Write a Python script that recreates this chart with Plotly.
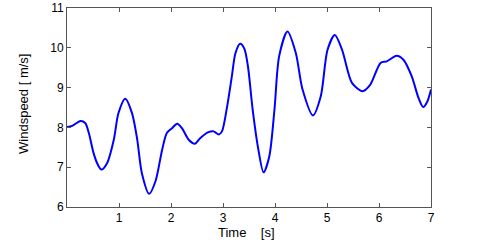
import plotly.graph_objects as go

# wind speed trace
time_s = [0.0, 0.1, 0.26, 0.35, 0.42, 0.51, 0.58, 0.66, 0.77, 0.9, 0.99, 1.12,
          1.25, 1.35, 1.44, 1.58, 1.7, 1.83, 1.92, 2.02, 2.12, 2.21, 2.34, 2.46,
          2.56, 2.72, 2.82, 2.92, 2.98, 3.08, 3.17, 3.24, 3.33, 3.41, 3.48, 3.57,
          3.67, 3.78, 3.89, 3.99, 4.08, 4.24, 4.4, 4.53, 4.73, 4.88, 5.01, 5.15,
          5.29, 5.48, 5.68, 5.83, 6.03, 6.15, 6.34, 6.47, 6.63, 6.76, 6.85, 6.93, 7.0]
wind_speed = [8.01, 8.04, 8.16, 8.11, 7.86, 7.36, 7.1, 6.94, 7.1, 7.69, 8.36, 8.72,
              8.36, 7.7, 6.85, 6.33, 6.64, 7.44, 7.86, 7.98, 8.09, 7.98, 7.69, 7.59,
              7.73, 7.88, 7.9, 7.82, 7.9, 8.53, 9.28, 9.87, 10.1, 9.98, 9.53, 8.45,
              7.52, 6.87, 7.27, 8.45, 9.79, 10.41, 9.87, 8.95, 8.30, 8.78, 9.95, 10.32,
              9.95, 9.12, 8.91, 9.07, 9.62, 9.66, 9.80, 9.70, 9.28, 8.74, 8.51, 8.65, 8.95]

x_ticks = [1, 2, 3, 4, 5, 6, 7]
y_ticks = [6, 7, 8, 9, 10, 11]

fig = go.Figure()
fig.add_trace(go.Scatter(x=time_s, y=wind_speed, mode='lines',
                         line=dict(color='#0000ff', width=2, shape='spline', smoothing=0.8)))

axis_style = dict(showline=True, linecolor='#555555', linewidth=1, mirror='ticks',
                  ticks='inside', ticklen=4, tickcolor='#555555', showgrid=False,
                  zeroline=False, automargin=False,
                  tickfont=dict(family='Liberation Sans', size=12, color='black'))

nb = '\u00a0'
fig.update_layout(
    width=480, height=244,
    margin=dict(l=67, r=49, t=8, b=37),
    paper_bgcolor='white', plot_bgcolor='white',
    showlegend=False,
    xaxis=dict(range=[0, 7], tickvals=x_ticks, **axis_style),
    yaxis=dict(range=[6, 11], tickvals=y_ticks, **axis_style),
    annotations=[
        dict(text=f'Time{nb * 4}[s]', xref='paper', yref='paper', x=0.492, y=-0.128,
             showarrow=False, xanchor='center', yanchor='middle',
             font=dict(family='Liberation Sans', size=13, color='black')),
        dict(text=f'Windspeed{nb}[{nb}m/s]', xref='paper', yref='paper', x=-0.118, y=0.518,
             showarrow=False, xanchor='center', yanchor='middle', textangle=-90,
             font=dict(family='Liberation Sans', size=13, color='black')),
    ],
)

# drop the page's default body margin so the figure sits at the window corner
fig.write_html('out.html', config={'displayModeBar': False},
               post_script="document.body.style.margin='0';")
